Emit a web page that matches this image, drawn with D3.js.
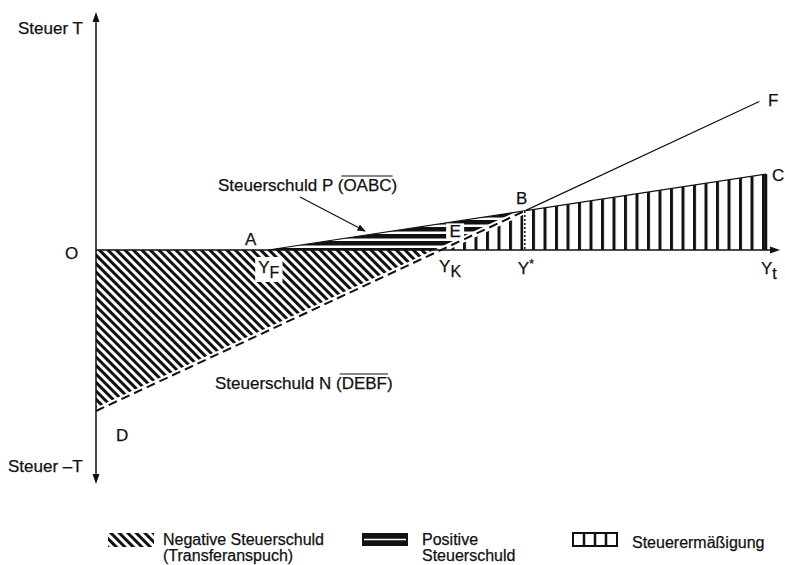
<!DOCTYPE html>
<html>
<head>
<meta charset="utf-8">
<script src="https://cdn.jsdelivr.net/npm/d3@7"></script>
<style>
  html, body { margin: 0; padding: 0; background: #fff; }
  svg text { font-family: "Liberation Sans", Arial, Helvetica, sans-serif; fill: #111; stroke: #111; stroke-width: 0.25; }
</style>
</head>
<body>
<svg id="chart" width="785" height="565"></svg>
<script>
// ---- data (schematic values) ----
const incomeNames = ["Y_F", "Y_K", "Y*", "Y_t"];
const incomeValues = [25.7, 51.5, 64, 100];
// tariff P: O, A, B, C
const tariffP_Y = [0, 25.7, 64, 100];
const tariffP_T = [0, 0, 17, 33];
// tariff N: D, (Y_K), B, F
const tariffN_Y = [0, 51.5, 64, 99];
const tariffN_T = [-70, 0, 17, 64.6];
const pointLabels = ["O", "A", "B", "C", "D", "E", "F"];
const legendLabels = [["Negative Steuerschuld", "(Transferanspuch)"], ["Positive", "Steuerschuld"], ["Steuerermäßigung"]];

// ---- setup ----
const svg = d3.select("#chart");
const x = d3.scaleLinear().domain([0, 100]).range([96, 766]);
const y = d3.scaleLinear().domain([-100, 100]).range([480, 20]);
const FS = 17;
const LFS = 16;
const ink = "#111";

const defs = svg.append("defs");
// diagonal hatch
const pDiag = defs.append("pattern").attr("id", "diag").attr("patternUnits", "userSpaceOnUse")
  .attr("width", 6).attr("height", 6).attr("patternTransform", "rotate(-45)");
pDiag.append("rect").attr("width", 6).attr("height", 6).attr("fill", "#fff");
pDiag.append("rect").attr("width", 3).attr("height", 6).attr("fill", ink);
// horizontal stripes
const pHor = defs.append("pattern").attr("id", "hor").attr("patternUnits", "userSpaceOnUse")
  .attr("x", 0).attr("y", 3).attr("width", 10).attr("height", 7);
pHor.append("rect").attr("width", 10).attr("height", 7).attr("fill", "#fff");
pHor.append("rect").attr("width", 10).attr("height", 4.5).attr("fill", ink);
// vertical bars
const pVer = defs.append("pattern").attr("id", "ver").attr("patternUnits", "userSpaceOnUse")
  .attr("x", 3).attr("y", 0).attr("width", 11.5).attr("height", 10);
pVer.append("rect").attr("width", 11.5).attr("height", 10).attr("fill", "#fff");
pVer.append("rect").attr("width", 3).attr("height", 10).attr("fill", ink);
// arrow marker
defs.append("marker").attr("id", "arr").attr("viewBox", "0 0 10 10").attr("refX", 9).attr("refY", 5)
  .attr("markerWidth", 7).attr("markerHeight", 7).attr("orient", "auto")
  .append("path").attr("d", "M0,1 L10,5 L0,9 Z").attr("fill", ink);

const line = d3.line().x(d => x(d[0])).y(d => y(d[1]));
const P = tariffP_Y.map((v, i) => [v, tariffP_T[i]]);
const N = tariffN_Y.map((v, i) => [v, tariffN_T[i]]);
const O = P[0], A = P[1], B = P[2], C = P[3];
const D = N[0], YK = N[1], F = N[3];
const Yt = [incomeValues[3], 0];

// ---- regions ----
svg.append("path").attr("d", line([O, YK, D]) + "Z").attr("fill", "url(#diag)");
svg.append("path").attr("d", line([A, YK, B]) + "Z").attr("fill", "url(#hor)");
svg.append("path").attr("d", line([YK, B, C, Yt]) + "Z").attr("fill", "url(#ver)");

// ---- tariff lines ----
svg.append("path").attr("d", line([D, B])).attr("fill", "none").attr("stroke", "#fff").attr("stroke-width", 6);
svg.append("path").attr("d", line([D, B])).attr("fill", "none").attr("stroke", ink)
  .attr("stroke-width", 2).attr("stroke-dasharray", "9,5");
svg.append("path").attr("d", line([A, C])).attr("fill", "none").attr("stroke", ink).attr("stroke-width", 1.2);
svg.append("path").attr("d", line([B, F])).attr("fill", "none").attr("stroke", ink).attr("stroke-width", 1.2);
svg.append("line").attr("x1", x(Yt[0])).attr("x2", x(Yt[0])).attr("y1", y(C[1])).attr("y2", y(0))
  .attr("stroke", ink).attr("stroke-width", 2.5);
// dotted Y* line
svg.append("line").attr("x1", x(B[0])).attr("x2", x(B[0])).attr("y1", y(B[1])).attr("y2", y(0))
  .attr("stroke", "#fff").attr("stroke-width", 3);
svg.append("line").attr("x1", x(B[0])).attr("x2", x(B[0])).attr("y1", y(B[1])).attr("y2", y(0))
  .attr("stroke", ink).attr("stroke-width", 1.5).attr("stroke-dasharray", "2,2");

// ---- axes ----
svg.append("line").attr("x1", x(0)).attr("x2", x(0)).attr("y1", 20).attr("y2", 476)
  .attr("stroke", ink).attr("stroke-width", 1.5);
svg.append("path").attr("d", `M${x(0)-3.5},22 L${x(0)},12 L${x(0)+3.5},22 Z`).attr("fill", ink);
svg.append("path").attr("d", `M${x(0)-3.5},474 L${x(0)},484 L${x(0)+3.5},474 Z`).attr("fill", ink);
svg.append("line").attr("x1", x(0)).attr("x2", 772).attr("y1", y(0)).attr("y2", y(0))
  .attr("stroke", ink).attr("stroke-width", 1.3);
svg.append("path").attr("d", `M770,${y(0)-3.5} L780,${y(0)} L770,${y(0)+3.5} Z`).attr("fill", ink);

// ---- labels ----
function txt(xp, yp, s, anchor, size) {
  return svg.append("text").attr("x", xp).attr("y", yp).attr("font-size", size || FS)
    .attr("text-anchor", anchor || "start").text(s);
}
txt(18, 34, "Steuer T");
txt(8, 472, "Steuer \u2013T");
txt(65, 259, pointLabels[0]);
txt(245, 245, pointLabels[1]);
txt(516, 204, pointLabels[2]);
txt(772, 181, pointLabels[3]);
txt(116, 441, pointLabels[4]);
txt(768, 106, pointLabels[6]);

// E with white box
const ex = x(53.6), ey = y(5.5);
svg.append("rect").attr("x", ex - 9).attr("y", ey - 14).attr("width", 18).attr("height", 17).attr("fill", "#fff");
txt(ex, ey, pointLabels[5], "middle");

// income labels with subscripts
function incomeLabel(i, xp, yp, box) {
  const parts = incomeNames[i].split("_");
  const g = svg.append("g");
  const t = g.append("text").attr("x", xp).attr("y", yp).attr("font-size", FS);
  t.append("tspan").text(parts[0].replace("*", ""));
  if (parts[0].includes("*")) t.append("tspan").attr("dy", -6).attr("font-size", 12).text("*");
  if (parts[1]) t.append("tspan").attr("dy", 5).attr("font-size", 16).text(parts[1]);
  if (box) {
    const bb = t.node().getBBox();
    g.insert("rect", "text").attr("x", bb.x - 3).attr("y", bb.y - 1).attr("width", bb.width + 6)
      .attr("height", bb.height + 2).attr("fill", "#fff");
  }
}
incomeLabel(0, x(incomeValues[0]) - 10, 273, true);
incomeLabel(1, x(incomeValues[1]) - 2, 272, false);
incomeLabel(2, x(incomeValues[2]) - 7, 274, false);
incomeLabel(3, x(incomeValues[3]) - 5, 274, false);

// annotations with overline
function overlineLabel(xp, yp, pre, over) {
  const t1 = txt(xp, yp, pre + "(");
  const w1 = t1.node().getComputedTextLength();
  const t2 = txt(xp + w1, yp, over);
  const w2 = t2.node().getComputedTextLength();
  txt(xp + w1 + w2, yp, ")");
  svg.append("line").attr("x1", xp + w1 - 2).attr("x2", xp + w1 + w2 + 1)
    .attr("y1", yp - 15).attr("y2", yp - 15).attr("stroke", ink).attr("stroke-width", 1.2);
}
overlineLabel(218, 191, "Steuerschuld P ", "OABC");
overlineLabel(215, 389, "Steuerschuld N ", "DEBF");
svg.append("line").attr("x1", 300).attr("y1", 197).attr("x2", 365).attr("y2", 231)
  .attr("stroke", ink).attr("stroke-width", 1.2).attr("marker-end", "url(#arr)");

// ---- legend ----
const ly = 533;
svg.append("rect").attr("x", 108).attr("y", ly).attr("width", 46).attr("height", 14)
  .attr("fill", "url(#diag)");
txt(163, 545, legendLabels[0][0], "start", LFS);
txt(163, 561, legendLabels[0][1], "start", LFS);

svg.append("rect").attr("x", 362).attr("y", ly).attr("width", 46).attr("height", 13).attr("fill", ink);
svg.append("line").attr("x1", 364).attr("x2", 406).attr("y1", ly + 6.5).attr("y2", ly + 6.5)
  .attr("stroke", "#fff").attr("stroke-width", 1.5);
txt(422, 545, legendLabels[1][0], "start", LFS);
txt(422, 561, legendLabels[1][1], "start", LFS);

svg.append("rect").attr("x", 573).attr("y", ly).attr("width", 44).attr("height", 13)
  .attr("fill", "#fff").attr("stroke", ink).attr("stroke-width", 2);
d3.range(1, 4).forEach(k => {
  svg.append("line").attr("x1", 573 + k * 11).attr("x2", 573 + k * 11).attr("y1", ly).attr("y2", ly + 13)
    .attr("stroke", ink).attr("stroke-width", 2.5);
});
txt(632, 548, legendLabels[2][0], "start", LFS);
</script>
</body>
</html>
